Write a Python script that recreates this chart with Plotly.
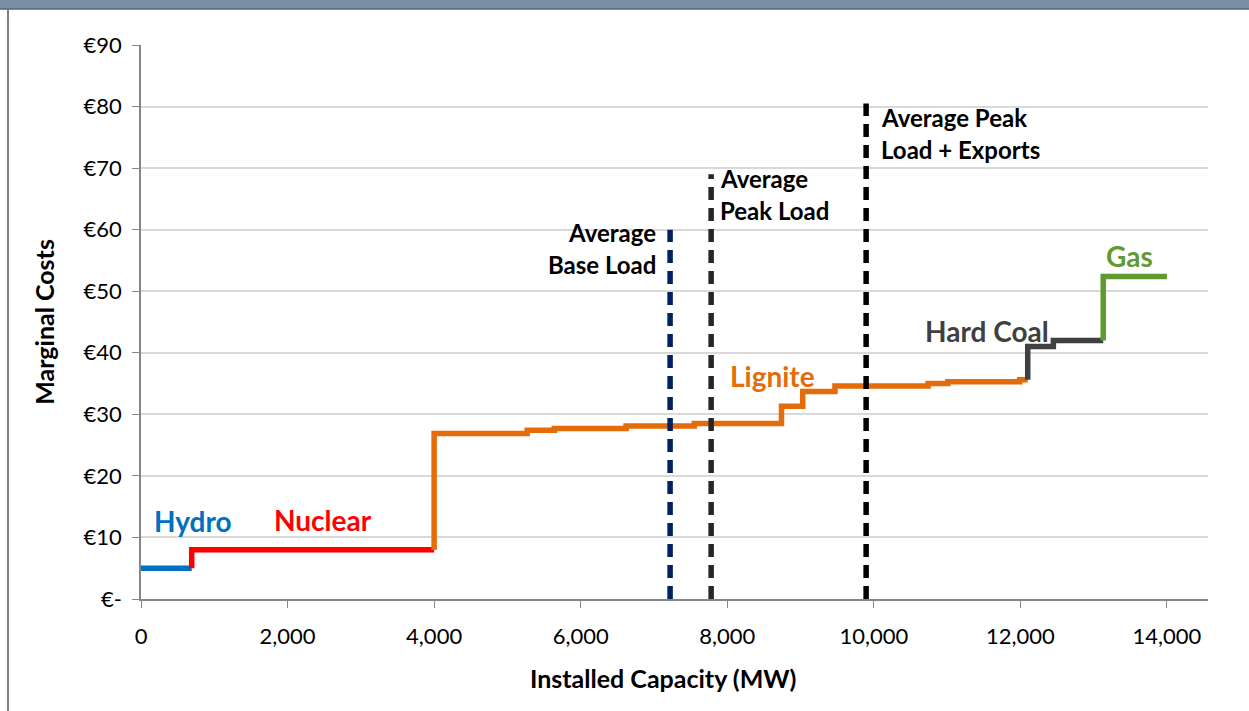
import plotly.graph_objects as go

# Merit order: each fuel's capacity blocks (start MW) and marginal cost (EUR/MWh)
fuels = ["Hydro", "Nuclear", "Lignite", "Hard Coal", "Gas"]
fuel_colors = ["#0070C0", "#FF0000", "#E46C0A", "#404040", "#5F9A32"]

hydro_start = [0]
hydro_cost = [5.0]
nuclear_start = [692]
nuclear_cost = [8.0]
lignite_start = [4000, 5270, 5640, 6620, 7550, 8740, 9030, 9470, 10740, 11010, 11990]
lignite_cost = [26.9, 27.4, 27.7, 28.1, 28.5, 31.3, 33.7, 34.6, 35.0, 35.3, 35.6]
coal_start = [12100, 12450]
coal_cost = [41.0, 42.0]
gas_start = [13130]
gas_cost = [52.4]
total_capacity = 14000

# Demand levels shown as vertical dashed markers
load_names = ["Average<br>Base Load", "Average<br>Peak Load", "Average Peak<br>Load + Exports"]
load_mw = [7220, 7780, 9895]
load_top = [60, 69, 80.5]
load_colors = ["#002060", "#262626", "#000000"]

y_ticks = [0, 10, 20, 30, 40, 50, 60, 70, 80, 90]
y_ticktext = ["€-", "€10", "€20", "€30", "€40", "€50", "€60", "€70", "€80", "€90"]
x_ticks = [0, 2000, 4000, 6000, 8000, 10000, 12000, 14000]

FONT = "Lato"
fig = go.Figure()

starts = [hydro_start, nuclear_start, lignite_start, coal_start, gas_start]
costs = [hydro_cost, nuclear_cost, lignite_cost, coal_cost, gas_cost]
ends = [nuclear_start[0], lignite_start[0], coal_start[0], gas_start[0], total_capacity]

prev_cost = None
for name, color, s, c, e in zip(fuels, fuel_colors, starts, costs, ends):
    xs, ys = [], []
    if prev_cost is not None:
        xs.append(s[0])
        ys.append(prev_cost)
    xs += list(s) + [e]
    ys += list(c) + [c[-1]]
    fig.add_trace(go.Scatter(x=xs, y=ys, mode="lines", line_shape="hv",
                             line=dict(color=color, width=5.5), name=name,
                             showlegend=False, hoverinfo="skip"))
    prev_cost = c[-1]

for name, mw, top, color in zip(load_names, load_mw, load_top, load_colors):
    fig.add_trace(go.Scatter(x=[mw, mw], y=[0, top], mode="lines",
                             line=dict(color=color, width=5.5, dash="13px,8px"),
                             name=name.replace("<br>", " "), showlegend=False,
                             hoverinfo="skip"))

# Fuel labels
fuel_label_pos = [(710, 12.7), (2480, 12.8), (8620, 36.2), (11540, 43.6), (13490, 55.7)]
for name, color, (lx, ly) in zip(fuels, fuel_colors, fuel_label_pos):
    fig.add_annotation(x=lx, y=ly, text=f"<b>{name}</b>", showarrow=False,
                       font=dict(family=FONT, size=28, color=color),
                       xanchor="center", yanchor="middle")

# Demand labels, one annotation per line to keep Excel-like line spacing
load_label_pos = [(7060, 59.6, "right"), (7870, 68.3, "left"), (10070, 78.2, "left")]
line_gap = 5.2
for name, (lx, ly, anchor) in zip(load_names, load_label_pos):
    for i, part in enumerate(name.split("<br>")):
        fig.add_annotation(x=lx, y=ly - i * line_gap, text=f"<b>{part}</b>",
                           showarrow=False, xanchor=anchor, yanchor="middle",
                           align=anchor,
                           font=dict(family=FONT, size=24, color="#000000"))

W, H = 1249, 711
L, R, T, B = 141, 41, 45, 112
pw, ph = W - L - R, H - T - B

def px_to_paper(px, py):
    return (px - L) / pw, (H - B - py) / ph

# Frame: title bar across the top and a border on the left
x0, y_top = px_to_paper(0, 0)
x1, y_bar = px_to_paper(W, 9)
fig.add_shape(type="rect", xref="paper", yref="paper", x0=x0, x1=x1, y0=y_bar, y1=y_top,
              fillcolor="#7A8FA3", line=dict(width=0), layer="above")
fig.add_shape(type="line", xref="paper", yref="paper", x0=x0, x1=x1, y0=y_bar, y1=y_bar,
              line=dict(color="#5A6673", width=1.5))
lx0, ly0 = px_to_paper(8, 9)
_, ly1 = px_to_paper(8, H)
fig.add_shape(type="line", xref="paper", yref="paper", x0=lx0, x1=lx0, y0=ly0, y1=ly1,
              line=dict(color="#808080", width=2))

# X-axis title, centred a little left of the plot centre
tx, ty = px_to_paper(663, 678)
fig.add_annotation(xref="paper", yref="paper", x=tx, y=ty, showarrow=False,
                   text="<b>Installed Capacity (MW)</b>", xanchor="center", yanchor="middle",
                   font=dict(family=FONT, size=25, color="#000000"))

fig.update_layout(
    width=W, height=H,
    margin=dict(l=L, r=R, t=T, b=B, pad=0),
    paper_bgcolor="white", plot_bgcolor="white",
    font=dict(family=FONT, color="#000000"),
    xaxis=dict(range=[0, 14560], tickvals=x_ticks, tickformat=",d",
               showgrid=False, zeroline=False, showline=True, linecolor="#868686",
               linewidth=1.5, ticks="outside", ticklen=7, tickcolor="#868686",
               ticklabelstandoff=10,
               tickfont=dict(family=FONT, size=22)),
    yaxis=dict(range=[0, 90], tickvals=y_ticks, ticktext=y_ticktext,
               showgrid=True, gridcolor="#D9D9D9", gridwidth=1.5, zeroline=False,
               showline=True, linecolor="#868686", linewidth=1.5,
               ticks="outside", ticklen=7, tickcolor="#868686",
               ticklabelstandoff=6,
               tickfont=dict(family=FONT, size=22),
               title=dict(text="<b>Marginal Costs</b>", standoff=22,
                          font=dict(family=FONT, size=25))),
)

fig.write_html("out.html")
